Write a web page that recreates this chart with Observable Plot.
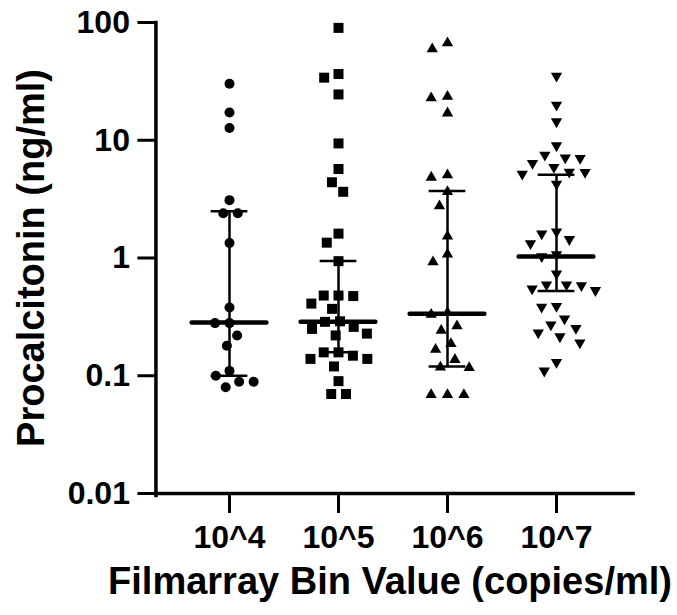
<!DOCTYPE html>
<html>
<head>
<meta charset="utf-8">
<script src="https://cdn.jsdelivr.net/npm/d3@7"></script>
<script src="https://cdn.jsdelivr.net/npm/@observablehq/plot@0.6"></script>
<style>
  html, body { margin: 0; padding: 0; background: #fff; }
  #chart { width: 677px; height: 615px; }
</style>
</head>
<body>
<div id="chart"></div>
<script>
// ---- data ----
const groups = ["10^4", "10^5", "10^6", "10^7"];

const pct10e4 = [30.2, 17.2, 12.7, 3.1, 2.4, 2.4, 1.34, 0.38, 0.28, 0.28, 0.22, 0.18, 0.11, 0.10, 0.089, 0.089, 0.080];
const pct10e5 = [90, 36.5, 34, 24.5, 9.4, 5.7, 4.4, 3.65, 1.61, 1.35, 0.94, 0.48, 0.48, 0.475, 0.41, 0.37, 0.29, 0.287, 0.26, 0.25, 0.228, 0.22, 0.158, 0.158, 0.148, 0.139, 0.139, 0.12, 0.09, 0.07, 0.07];
const pct10e6 = [67, 59.6, 23.5, 22.8, 17, 5.06, 4.84, 3.65, 2.76, 1.53, 1.075, 0.925, 0.343, 0.331, 0.264, 0.242, 0.187, 0.167, 0.137, 0.118, 0.117, 0.069, 0.069, 0.069];
const pct10e7 = [35.1, 19.9, 14.4, 9.0, 7.5, 7.11, 7.03, 6.37, 5.89, 5.37, 5.34, 5.16, 4.25, 1.67, 1.61, 1.44, 1.33, 1.07, 1.03, 0.736, 0.593, 0.593, 0.585, 0.549, 0.531, 0.39, 0.383, 0.305, 0.271, 0.253, 0.232, 0.215, 0.191, 0.13, 0.11];

const medians = [0.283, 0.287, 0.336, 1.03];
const lowerQ = [0.10, 0.158, 0.12, 0.524];
const upperQ = [2.5, 0.943, 3.71, 5.09];

const yTicks = [0.01, 0.1, 1, 10, 100];
const yTickLabels = ["0.01", "0.1", "1", "10", "100"];

const xTitle = "Filmarray Bin Value (copies/ml)";
const yTitle = "Procalcitonin (ng/ml)";

// ---- build tables ----
const series = [pct10e4, pct10e5, pct10e6, pct10e7];
const points = series.map((vals, i) => vals.map(v => ({g: groups[i], v})));
const summary = groups.map((g, i) => ({g, med: medians[i], lo: lowerQ[i], hi: upperQ[i]}));

// ---- layout / style ----
const W = 677, H = 615;
const mL = 155, mR = 47, mT = 22, mB = 122;
const padIn = 0.1, padOut = 0.225;
const step = (W - mL - mR) / (groups.length - padIn + 2 * padOut);
const band = step * (1 - padIn);
const outerGap = step * padOut;          // distance from frame edge to first facet
const medHalf = 37.5, capHalf = 18.5;
const font = "'Liberation Sans', Arial, Helvetica, sans-serif";

const markStyle = [
  {symbol: "circle", r: 5, rotate: 0, padding: 4.5},
  {symbol: "square", r: 5.64, rotate: 0, padding: 3.5},
  {symbol: "triangle", r: 4.2, rotate: 0, padding: 8},
  {symbol: "triangle", r: 4.2, rotate: 180, padding: 6.5}
];

const dots = points.map((rows, i) => Plot.dot(rows, Plot.dodgeX(
  {anchor: "middle", padding: markStyle[i].padding},
  {fx: "g", y: "v", r: markStyle[i].r, symbol: markStyle[i].symbol, rotate: markStyle[i].rotate, fill: "black", stroke: "none"}
)));

const chart = Plot.plot({
  width: W, height: H,
  marginLeft: mL, marginRight: mR, marginTop: mT, marginBottom: mB,
  style: {fontFamily: font, background: "white", color: "black", overflow: "visible"},
  fx: {domain: groups, paddingInner: padIn, paddingOuter: padOut, label: null},
  y: {type: "log", domain: [0.01, 100], label: null},
  marks: [
    Plot.frame({anchor: "left", facet: "super", strokeWidth: 3.5, stroke: "black", insetLeft: -outerGap, insetBottom: -2}),
    Plot.frame({anchor: "bottom", facet: "super", strokeWidth: 3.5, stroke: "black", insetLeft: -outerGap, insetRight: -outerGap - 3}),
    Plot.axisY({
      anchor: "left", ticks: yTicks, dx: -outerGap,
      tickFormat: d => yTickLabels[yTicks.indexOf(d)],
      tickSize: 18, tickPadding: 8, strokeWidth: 3, stroke: "black",
      fontSize: 32, fontWeight: "bold", fill: "black", label: null
    }),
    Plot.axisFx({
      anchor: "bottom", tickSize: 20, tickPadding: 12, strokeWidth: 3, stroke: "black",
      fontSize: 32, fontWeight: "bold", fill: "black", label: null
    }),
    ...dots,
    Plot.ruleX(summary, {fx: "g", x: null, y1: "lo", y2: "hi", strokeWidth: 2.5, stroke: "black"}),
    Plot.ruleY(summary, {fx: "g", y: "hi", strokeWidth: 2.5, stroke: "black", insetLeft: band / 2 - capHalf, insetRight: band / 2 - capHalf}),
    Plot.ruleY(summary, {fx: "g", y: "lo", strokeWidth: 2.5, stroke: "black", insetLeft: band / 2 - capHalf, insetRight: band / 2 - capHalf}),
    Plot.ruleY(summary, {fx: "g", y: "med", strokeWidth: 4.5, strokeLinecap: "round", stroke: "black", insetLeft: band / 2 - medHalf, insetRight: band / 2 - medHalf}),
    Plot.text([yTitle], {facet: "super", frameAnchor: "left", textAnchor: "middle", text: d => d, rotate: -90, dx: -(124 + outerGap), fontSize: 38, fontWeight: "bold", fill: "black"}),
    Plot.text([xTitle], {facet: "super", frameAnchor: "bottom", textAnchor: "middle", text: d => d, dx: -3, dy: 100, fontSize: 38, fontWeight: "bold", fill: "black"})
  ]
});

document.getElementById("chart").appendChild(chart);
</script>
</body>
</html>
